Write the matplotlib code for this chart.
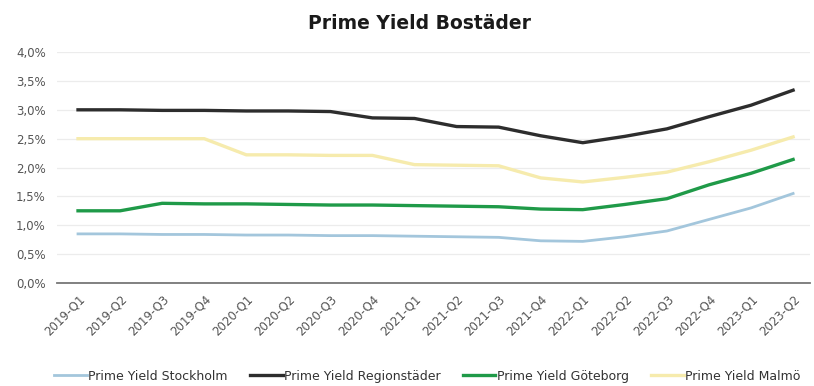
import matplotlib.pyplot as plt
from matplotlib.ticker import FuncFormatter

quarters = ["2019-Q1", "2019-Q2", "2019-Q3", "2019-Q4",
            "2020-Q1", "2020-Q2", "2020-Q3", "2020-Q4",
            "2021-Q1", "2021-Q2", "2021-Q3", "2021-Q4",
            "2022-Q1", "2022-Q2", "2022-Q3", "2022-Q4",
            "2023-Q1", "2023-Q2"]

stockholm = [0.85, 0.85, 0.84, 0.84, 0.83, 0.83, 0.82, 0.82, 0.81,
             0.80, 0.79, 0.73, 0.72, 0.80, 0.90, 1.10, 1.30, 1.55]
regionstader = [3.00, 3.00, 2.99, 2.99, 2.98, 2.98, 2.97, 2.86, 2.85,
                2.71, 2.70, 2.55, 2.43, 2.54, 2.67, 2.88, 3.08, 3.34]
goteborg = [1.25, 1.25, 1.38, 1.37, 1.37, 1.36, 1.35, 1.35, 1.34,
            1.33, 1.32, 1.28, 1.27, 1.36, 1.46, 1.70, 1.90, 2.14]
malmo = [2.50, 2.50, 2.50, 2.50, 2.22, 2.22, 2.21, 2.21, 2.05,
         2.04, 2.03, 1.82, 1.75, 1.83, 1.92, 2.10, 2.30, 2.53]

fig = plt.figure(figsize=(8.14, 3.86), dpi=100)
ax = fig.add_axes([0.070, 0.267, 0.925, 0.598])

x = range(len(quarters))
ax.plot(x, stockholm, color="#a3c6dc", lw=2.0, label="Prime Yield Stockholm")
ax.plot(x, regionstader, color="#2d2d2d", lw=2.4, label="Prime Yield Regionstäder")
ax.plot(x, goteborg, color="#1f9a48", lw=2.4, label="Prime Yield Göteborg")
ax.plot(x, malmo, color="#f6ebad", lw=2.4, label="Prime Yield Malmö")

ax.set_ylim(0, 4.0)
ax.set_xlim(-0.5, 17.4)
ax.set_yticks([0, 0.5, 1.0, 1.5, 2.0, 2.5, 3.0, 3.5, 4.0])
ax.yaxis.set_major_formatter(FuncFormatter(lambda v, p: f"{v:.1f}%".replace(".", ",")))
ax.set_xticks(list(x))
ax.set_xticklabels(quarters, rotation=45, ha="right", rotation_mode="anchor")
ax.tick_params(axis="both", length=0, labelsize=8.5, labelcolor="#555555")
ax.tick_params(axis="y", pad=8)
ax.tick_params(axis="x", pad=7)

ax.grid(axis="y", color="#ececec", lw=0.9)
ax.set_axisbelow(True)
for s in ["top", "right", "left"]:
    ax.spines[s].set_visible(False)
ax.spines["bottom"].set_color("#777777")
ax.spines["bottom"].set_linewidth(1.3)

fig.text(0.515, 0.94, "Prime Yield Bostäder", ha="center", va="center",
         fontsize=13.5, fontweight="heavy", color="#1a1a1a")

fig.legend(loc="center", bbox_to_anchor=(0.525, 0.025), ncol=4, frameon=False,
           fontsize=9, handlelength=2.6, handletextpad=0.1, columnspacing=1.8,
           labelcolor="#333333")

fig.savefig("out.png", dpi=100)
